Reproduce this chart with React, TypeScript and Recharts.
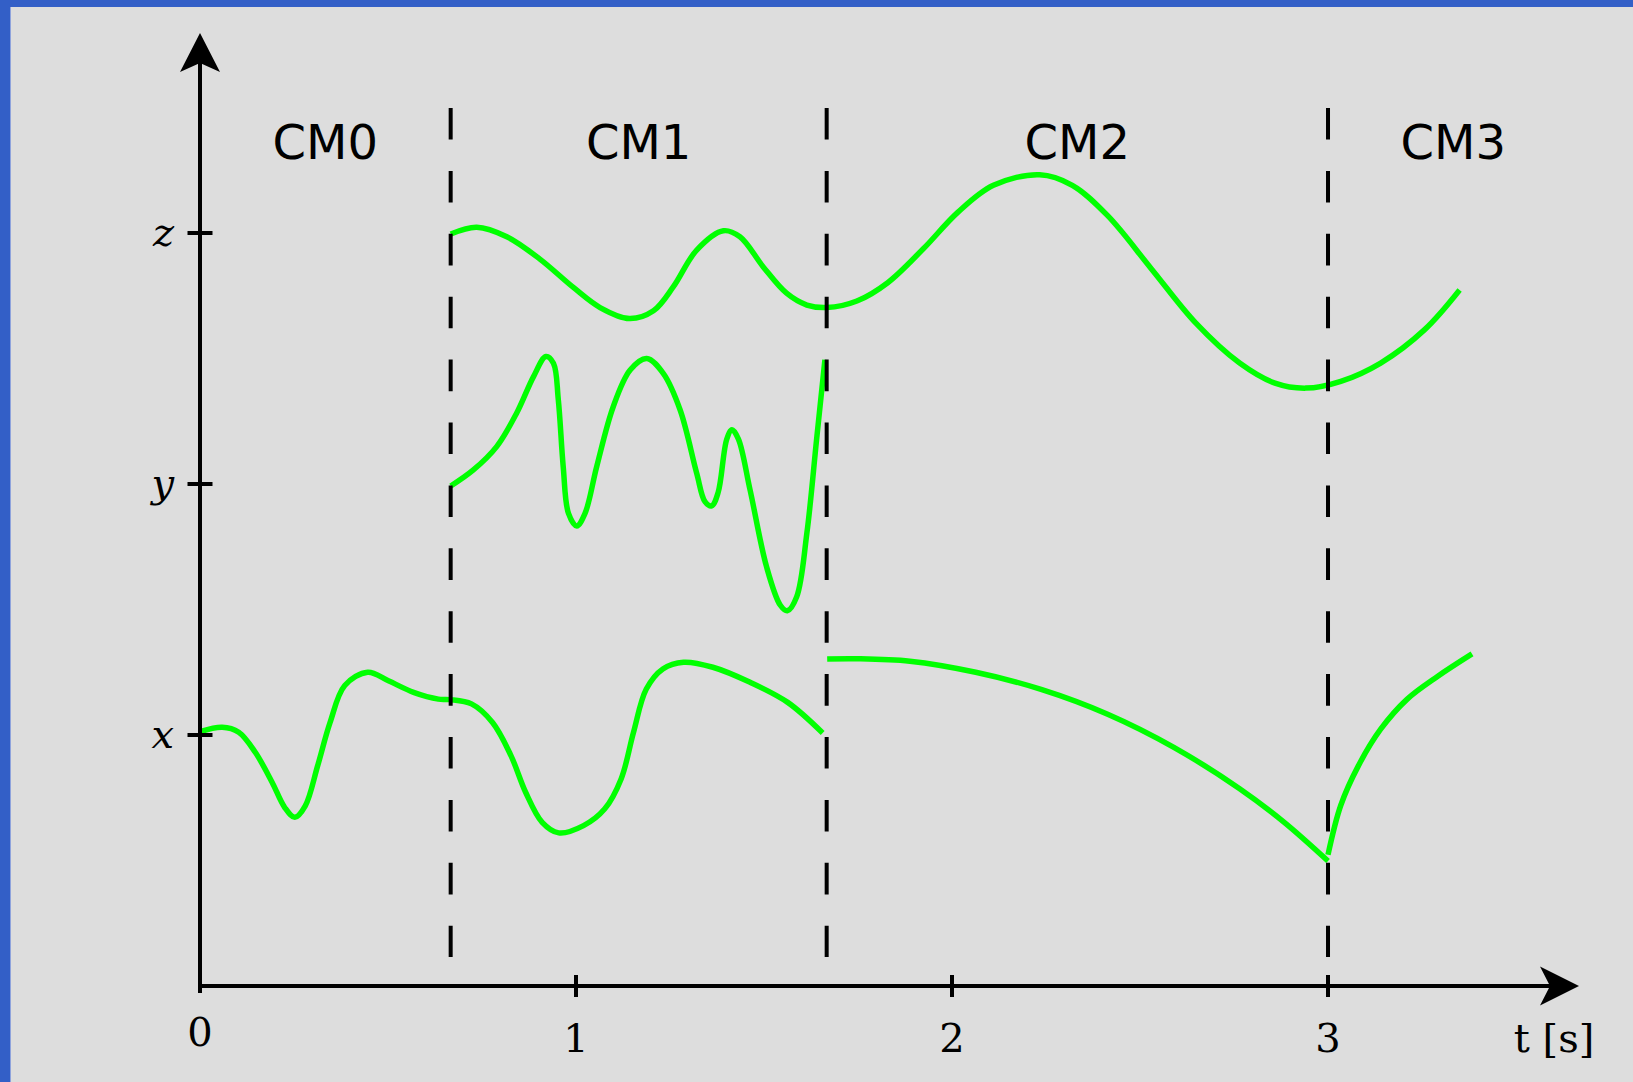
import React from 'react';
import { ComposedChart, Line, XAxis, YAxis, ReferenceLine, ReferenceDot } from 'recharts';

// time axis and the three coordinate levels
const xTicks = [0, 1, 2, 3];
const yTicks = [1, 2, 3];
const yTickLabels = ['x', 'y', 'z'];

const modeNames = ['CM0', 'CM1', 'CM2', 'CM3'];
const modeCenters = [1 / 3, 7 / 6, 7 / 3, 10 / 3];
const modeBounds = [2 / 3, 5 / 3, 3];
const modeLabelLevel = 3.295;

// x coordinate, CM0 + CM1
const xaT = [0, 0.059, 0.103, 0.147, 0.192, 0.225, 0.252, 0.28, 0.313, 0.346, 0.385, 0.446, 0.501, 0.568, 0.634, 0.665, 0.722, 0.778, 0.827, 0.866, 0.91, 0.954, 1.02, 1.076, 1.12, 1.153, 1.187, 1.231, 1.286, 1.364, 1.463, 1.563, 1.656];
const xaV = [1.013, 1.031, 1.011, 0.931, 0.811, 0.712, 0.672, 0.718, 0.878, 1.05, 1.197, 1.25, 1.216, 1.17, 1.143, 1.141, 1.124, 1.05, 0.918, 0.772, 0.652, 0.61, 0.639, 0.705, 0.825, 1.011, 1.183, 1.263, 1.29, 1.27, 1.21, 1.13, 1.008];

// x coordinate, CM2
const xbT = [1.668, 1.747, 1.888, 2.063, 2.239, 2.414, 2.59, 2.765, 2.882, 3.0];
const xbV = [1.303, 1.304, 1.294, 1.25, 1.181, 1.083, 0.951, 0.786, 0.654, 0.498];

// x coordinate, CM3
const xcT = [3.0, 3.034, 3.081, 3.14, 3.21, 3.292, 3.383];
const xcV = [0.523, 0.72, 0.878, 1.023, 1.142, 1.234, 1.323];

// y coordinate, CM1 only
const yT = [0.667, 0.727, 0.789, 0.842, 0.887, 0.92, 0.94, 0.953, 0.966, 0.98, 1.002, 1.024, 1.055, 1.099, 1.144, 1.188, 1.232, 1.277, 1.321, 1.343, 1.361, 1.378, 1.401, 1.415, 1.432, 1.463, 1.507, 1.543, 1.562, 1.587, 1.614, 1.64, 1.662];
const yV = [1.992, 2.056, 2.149, 2.282, 2.428, 2.508, 2.481, 2.335, 2.069, 1.883, 1.833, 1.883, 2.069, 2.308, 2.454, 2.5, 2.441, 2.295, 2.043, 1.93, 1.913, 1.966, 2.179, 2.216, 2.179, 1.976, 1.669, 1.518, 1.495, 1.551, 1.804, 2.179, 2.495];

// z coordinate, CM1 to CM3
const zT = [0.667, 0.736, 0.816, 0.904, 0.993, 1.064, 1.142, 1.206, 1.259, 1.321, 1.392, 1.436, 1.498, 1.56, 1.614, 1.667, 1.747, 1.829, 1.923, 2.016, 2.11, 2.233, 2.32, 2.414, 2.531, 2.648, 2.765, 2.859, 2.941, 3.034, 3.14, 3.257, 3.35];
const zV = [2.996, 3.023, 2.985, 2.896, 2.783, 2.703, 2.659, 2.69, 2.786, 2.932, 3.009, 2.985, 2.865, 2.76, 2.713, 2.703, 2.729, 2.802, 2.936, 3.083, 3.19, 3.232, 3.19, 3.069, 2.856, 2.642, 2.482, 2.402, 2.382, 2.409, 2.482, 2.615, 2.773];

const zip = (ts: number[], vs: number[]) => ts.map((t, i) => ({ t, v: vs[i] }));

const curves = [zip(xaT, xaV), zip(xbT, xbV), zip(xcT, xcV), zip(yT, yV), zip(zT, zV)];

const X_MAX = 3.5904;
const Y_MAX = 3.6773;
const GREEN = '#00ff00';
const SERIF = '"DejaVu Serif", serif';
const AXIS_W = 4;

// centripetal catmull-rom, the hand drawn curves are smoother than monotone
function smoothCurve(context: any) {
  let pts: number[][] = [];
  const dist = (a: number[], b: number[]) => Math.sqrt(Math.hypot(b[0] - a[0], b[1] - a[1]));
  return {
    areaStart() {},
    areaEnd() {},
    lineStart() {
      pts = [];
    },
    point(x: number, y: number) {
      pts.push([+x, +y]);
    },
    lineEnd() {
      const n = pts.length;
      if (!n) return;
      context.moveTo(pts[0][0], pts[0][1]);
      for (let i = 0; i < n - 1; i++) {
        const p0 = pts[Math.max(i - 1, 0)];
        const p1 = pts[i];
        const p2 = pts[i + 1];
        const p3 = pts[Math.min(i + 2, n - 1)];
        const d1 = dist(p0, p1);
        const d2 = dist(p1, p2);
        const d3 = dist(p2, p3);
        let c1 = p1;
        let c2 = p2;
        if (d1 > 1e-6) {
          const a = 2 * d1 * d1 + 3 * d1 * d2 + d2 * d2;
          const m = 3 * d1 * (d1 + d2);
          c1 = [0, 1].map((k) => (d1 * d1 * p2[k] - d2 * d2 * p0[k] + a * p1[k]) / m);
        }
        if (d3 > 1e-6) {
          const b = 2 * d3 * d3 + 3 * d3 * d2 + d2 * d2;
          const m = 3 * d3 * (d3 + d2);
          c2 = [0, 1].map((k) => (d3 * d3 * p1[k] - d2 * d2 * p3[k] + b * p2[k]) / m);
        }
        context.bezierCurveTo(c1[0], c1[1], c2[0], c2[1], p2[0], p2[1]);
      }
    },
  };
}

function XTick(props: any) {
  const { x, y, payload } = props;
  const zero = payload.value === 0;
  return (
    <g>
      <line x1={x} x2={x} y1={zero ? y : y - 11} y2={zero ? y + 7 : y + 11} stroke="#000" strokeWidth={AXIS_W} />
      <text x={x} y={y + (zero ? 60 : 66)} textAnchor="middle" fontFamily={SERIF} fontSize={40} fill="#000">
        {payload.value}
      </text>
    </g>
  );
}

function YTick(props: any) {
  const { x, y, payload } = props;
  const label = yTickLabels[yTicks.indexOf(payload.value)];
  return (
    <g>
      <line x1={x - 12.5} x2={x + 12.5} y1={y} y2={y} stroke="#000" strokeWidth={AXIS_W} />
      <text x={x - 26} y={y + 13} textAnchor="end" fontFamily={SERIF} fontStyle="italic" fontSize={40} fill="#000">
        {label}
      </text>
    </g>
  );
}

const RightArrow = (p: any) => (
  <g>
    <polygon points={`${p.cx + 29},${p.cy} ${p.cx - 10},${p.cy - 19.5} ${p.cx},${p.cy} ${p.cx - 10},${p.cy + 19.5}`} fill="#000" />
    <text x={p.cx + 4} y={p.cy + 66} textAnchor="middle" fontFamily={SERIF} fontSize={40} fill="#000">t [s]</text>
  </g>
);

const UpArrow = (p: any) => (
  <polygon points={`${p.cx},${p.cy - 30} ${p.cx + 20},${p.cy + 9} ${p.cx},${p.cy} ${p.cx - 20},${p.cy + 9}`} fill="#000" />
);

export default function App() {
  return (
    <div style={{ position: 'absolute', left: 0, top: 0, width: 1633, height: 1082, background: '#dddddd', overflow: 'hidden' }}>
      <div style={{ position: 'absolute', left: 0, top: 0, width: 1633, height: 7, background: '#335fc7' }} />
      <div style={{ position: 'absolute', left: 0, top: 0, width: 10, height: 1082, background: '#335fc7' }} />
      <div style={{ position: 'absolute', left: 10, top: 7, width: 1, height: 1075, background: '#8fa3dc' }} />
      <div style={{ position: 'absolute', left: 0, top: 0 }}>
        <ComposedChart width={1633} height={1082} margin={{ top: 63, right: 83, bottom: 36, left: 140 }}>
          <XAxis
            dataKey="t"
            type="number"
            domain={[0, X_MAX]}
            ticks={xTicks}
            interval={0}
            allowDataOverflow
            tickLine={false}
            tickSize={0}
            tickMargin={0}
            height={60}
            axisLine={{ stroke: '#000', strokeWidth: AXIS_W }}
            tick={(p: any) => <XTick {...p} />}
          />
          <YAxis
            type="number"
            domain={[0, Y_MAX]}
            ticks={yTicks}
            interval={0}
            allowDataOverflow
            tickLine={false}
            tickSize={0}
            tickMargin={0}
            width={60}
            axisLine={{ stroke: '#000', strokeWidth: AXIS_W }}
            tick={(p: any) => <YTick {...p} />}
          />
          {curves.map((d, i) => (
            <Line
              key={i}
              data={d}
              dataKey="v"
              type={smoothCurve as any}
              stroke={GREEN}
              strokeWidth={5.5}
              dot={false}
              activeDot={false}
              isAnimationActive={false}
            />
          ))}
          {modeBounds.map((b) => (
            <ReferenceLine
              key={b}
              segment={[{ x: b, y: 3.498 }, { x: b, y: 0.1155 }]}
              stroke="#000"
              strokeWidth={4}
              strokeDasharray="31.6 31.3"
              ifOverflow="visible"
            />
          ))}
          {modeNames.map((name, i) => (
            <ReferenceDot
              key={name}
              x={modeCenters[i]}
              y={modeLabelLevel}
              r={0}
              ifOverflow="visible"
              shape={(p: any) => (
                <text x={p.cx} y={p.cy} textAnchor="middle" fontFamily='"DejaVu Sans", sans-serif' fontSize={48} fill="#000">
                  {name}
                </text>
              )}
            />
          ))}
          <ReferenceDot x={X_MAX} y={0} r={0} ifOverflow="visible" shape={RightArrow} />
          <ReferenceDot x={0} y={Y_MAX} r={0} ifOverflow="visible" shape={UpArrow} />
        </ComposedChart>
      </div>
    </div>
  );
}
